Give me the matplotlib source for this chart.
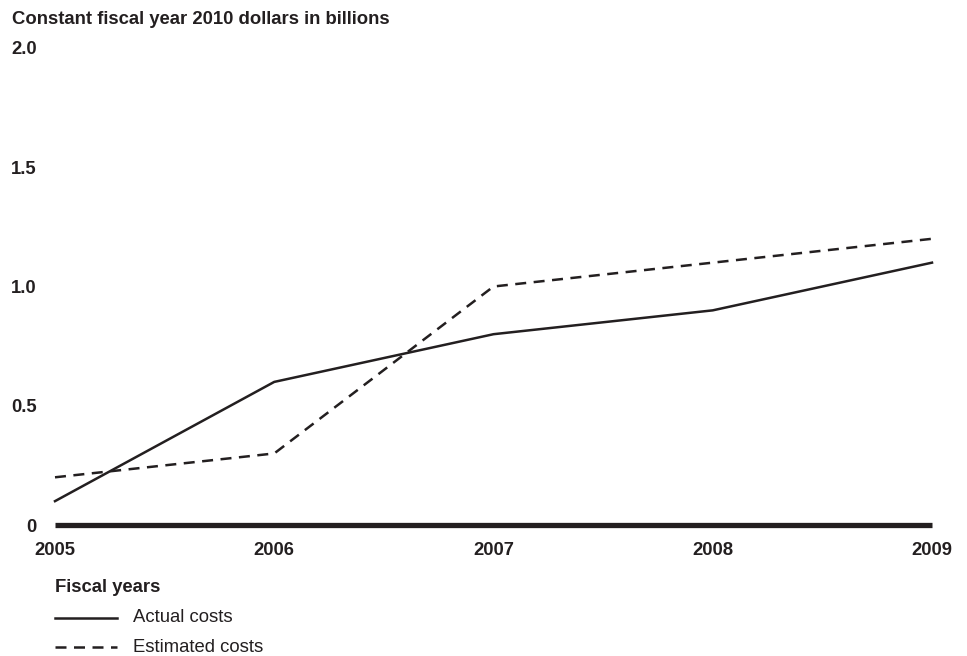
import matplotlib.pyplot as plt

years = [2005, 2006, 2007, 2008, 2009]
actual = [0.1, 0.6, 0.8, 0.9, 1.1]
estimated = [0.2, 0.3, 1.0, 1.1, 1.2]
yticks = [0, 0.5, 1.0, 1.5, 2.0]
ylabels = ['0', '0.5', '1.0', '1.5', '2.0']

ink = '#231f20'
fs = 13.3
plt.rcParams['font.family'] = ['Liberation Sans', 'DejaVu Sans']

W, H = 967, 656
fig = plt.figure(figsize=(W / 100, H / 100), dpi=100)
ax = fig.add_axes([55 / W, (H - 525) / H, (932 - 55) / W, (525 - 48) / H])

dash = (4.4, 3.0)
ax.plot(years, actual, color=ink, lw=1.8, clip_on=False)
ax.plot(years, estimated, color=ink, lw=1.8, dashes=dash, clip_on=False)
ax.axhline(0, color=ink, lw=3.8, solid_capstyle='butt', clip_on=False, zorder=3)

ax.set_xlim(2005, 2009)
ax.set_ylim(0, 2.0)
ax.set_xticks(years)
ax.set_xticklabels([str(y) for y in years], fontsize=fs, fontweight='bold', color=ink)
ax.set_yticks(yticks)
ax.set_yticklabels(ylabels, fontsize=fs, fontweight='bold', color=ink)
ax.tick_params(length=0)
ax.tick_params(axis='x', pad=12)
ax.tick_params(axis='y', pad=13)
for s in ax.spines.values():
    s.set_visible(False)

fig.text(12 / W, 1 - 20 / H, 'Constant fiscal year 2010 dollars in billions',
         fontsize=fs, fontweight='bold', color=ink, va='center', ha='left')

# legend below the axes
fig.text(55 / W, 1 - 587 / H, 'Fiscal years', fontsize=fs, fontweight='bold',
         color=ink, va='center', ha='left')
leg = [(618, 'Actual costs', None), (647, 'Estimated costs', dash)]
for y, label, d in leg:
    yy = 1 - y / H
    ln = plt.Line2D([55 / W, 117 / W], [yy, yy], transform=fig.transFigure,
                    color=ink, lw=1.8)
    if d:
        ln.set_dashes(d)
    fig.add_artist(ln)
    fig.text(133 / W, yy, label, fontsize=fs, color=ink, va='center', ha='left')

fig.savefig('out.png', dpi=100)
